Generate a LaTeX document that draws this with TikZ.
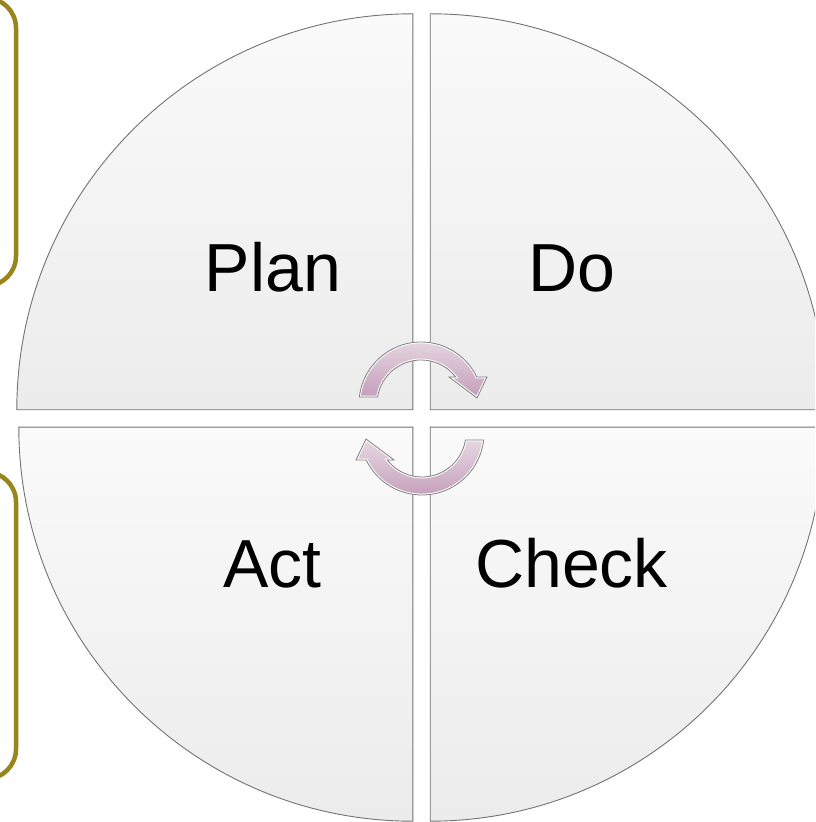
\documentclass[tikz,border=0pt]{standalone}
\usepackage{fontspec}
\setmainfont{Liberation Sans}
\usetikzlibrary{calc}
\definecolor{olivebox}{RGB}{152,134,28}
\definecolor{mauvetop}{RGB}{231,215,226}
\definecolor{mauvebot}{RGB}{196,158,186}

\begin{document}
\begin{tikzpicture}[x=1pt, y=1pt,
		quad/.style={draw=black!55, line width=0.9pt, top color=gray!4, bottom color=gray!15},
		cyc/.style={top color=mauvetop, bottom color=mauvebot},
		rim/.style={draw=black!50, line width=0.8pt},
		lbl/.style={font=\fontsize{68}{80}\selectfont, anchor=base, inner sep=0pt},
		side/.style={draw=olivebox, line width=4.5pt, rounded corners=30pt}]
		\useasboundingbox (0,0) rectangle (815,822);
		\clip (0,0) rectangle (815,822);
		\fill[white] (0,0) rectangle (815,822);
		\draw[side] (-100,824) rectangle (16,536);
		\draw[side] (-100,350) rectangle (16,43);
		\begin{scope}
			\coordinate (q1) at (412.8,412.2);
			\coordinate (q2) at (430.2,412.2);
			\coordinate (q3) at (412.8,394.8);
			\coordinate (q4) at (430.2,394.8);
			\path[quad] (q1) -- ++(-396,0) arc[start angle=180, end angle=90, radius=396] -- cycle;
			\path[quad] (q2) -- ++(0,396) arc[start angle=90, end angle=0, radius=396] -- cycle;
			\path[quad] (q3) -- ++(0,-394) arc[start angle=270, end angle=180, radius=394] -- cycle;
			\path[quad] (q4) -- ++(394,0) arc[start angle=0, end angle=-90, radius=394] -- cycle;
		\end{scope}
		\node[lbl] (Pl) at (273,530) {Plan};
		\node[lbl] (Do) at (571.5,530) {Do};
		\node[lbl] (Ac) at (272.5,234) {Act};
		\node[lbl] (Ch) at (571.5,234) {Check};
		\begin{scope}[shift={(421,418)}]
			\path[cyc, save path=\cwtop] (173.5:62) arc[start angle=173.5, end angle=25.8, radius=62]
				-- (66,27) -- (56,6) -- (28,27)
				-- (37.9:44) arc[start angle=37.9, end angle=170.8, radius=44] -- cycle;
		\end{scope}
		\begin{scope}[shift={(422,389)}]
			\path[cyc, save path=\cwbot] (353.5:62) arc[start angle=353.5, end angle=205.8, radius=62]
				-- (-66,-27) -- (-56,-6) -- (-28,-27)
				-- (217.9:44) arc[start angle=217.9, end angle=350.8, radius=44] -- cycle;
		\end{scope}
		\begin{scope}
			\path[clip, use path=\cwtop];
			\draw[white, line width=2.8pt, use path=\cwtop];
		\end{scope}
		\begin{scope}
			\path[clip, use path=\cwbot];
			\draw[white, line width=2.8pt, use path=\cwbot];
		\end{scope}
		\path[rim, use path=\cwtop];
		\path[rim, use path=\cwbot];
	\end{tikzpicture}
\end{document}
